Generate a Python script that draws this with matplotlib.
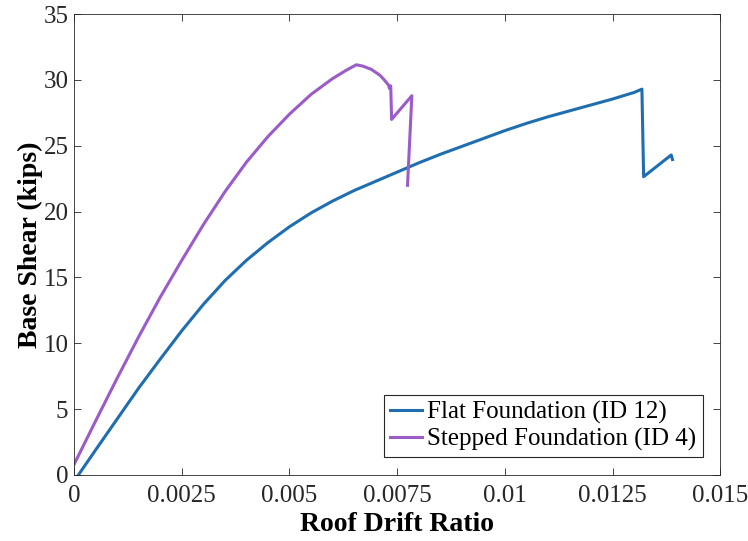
import numpy as np
import matplotlib
matplotlib.use("Agg")
import matplotlib.pyplot as plt

plt.rcParams['font.family'] = ['Liberation Serif', 'DejaVu Serif']

# Flat foundation (ID 12) pushover curve
flat_drift = [0.0001, 0.0005, 0.001, 0.0015, 0.002, 0.0025, 0.003, 0.0035, 0.004,
              0.0045, 0.005, 0.0055, 0.006, 0.0065, 0.007, 0.0075, 0.008, 0.0085,
              0.009, 0.0095, 0.01, 0.0105, 0.011, 0.0115, 0.012, 0.0125, 0.013,
              0.01318, 0.01322, 0.01386, 0.01389]
flat_shear = [0.0, 1.9, 4.25, 6.6, 8.8, 10.95, 12.95, 14.75, 16.3,
              17.65, 18.85, 19.9, 20.8, 21.6, 22.3, 23.0, 23.7, 24.35,
              24.95, 25.55, 26.15, 26.7, 27.2, 27.65, 28.1, 28.55, 29.05,
              29.3, 22.65, 24.3, 23.95]

# Stepped foundation (ID 4) pushover curve
step_drift = [0.0, 0.0005, 0.001, 0.0015, 0.002, 0.0025, 0.003, 0.0035, 0.004,
              0.0045, 0.005, 0.0055, 0.006, 0.0063, 0.00655, 0.0067, 0.0069,
              0.0071, 0.0072, 0.0073, 0.00732, 0.00735, 0.00737, 0.00784, 0.00774]
step_shear = [0.8, 4.1, 7.35, 10.5, 13.5, 16.3, 19.0, 21.5, 23.75,
              25.7, 27.4, 28.9, 30.1, 30.7, 31.15, 31.05, 30.8,
              30.35, 30.0, 29.6, 29.35, 29.55, 27.0, 28.8, 22.0]

xticks = [0, 0.0025, 0.005, 0.0075, 0.01, 0.0125, 0.015]
xtick_labels = ['0', '0.0025', '0.005', '0.0075', '0.01', '0.0125', '0.015']
yticks = [0, 5, 10, 15, 20, 25, 30, 35]

fig = plt.figure(figsize=(7.48, 5.41), dpi=100)
ax = fig.add_axes([0.099, 0.122, 0.864, 0.852])

ax.plot(flat_drift, flat_shear, color='#1f6eb0', lw=2.2, label='Flat Foundation (ID 12)')
ax.plot(step_drift, step_shear, color='#9b5bc9', lw=2.2, label='Stepped Foundation (ID 4)')

ax.set_xlim(0, 0.015)
ax.set_ylim(0, 35)
ax.set_xticks(xticks)
ax.set_xticklabels(xtick_labels)
ax.set_yticks(yticks)
ax.tick_params(direction='in', top=True, right=True, labelsize=18, colors='#262626',
               length=5, width=0.6)
ax.tick_params(axis='x', pad=7)
ax.tick_params(axis='y', pad=4)
for s in ax.spines.values():
    s.set_color('#262626')
    s.set_linewidth(0.6)

ax.set_xlabel('Roof Drift Ratio', fontsize=20, fontweight='bold', labelpad=4)
ax.set_ylabel('Base Shear (kips)', fontsize=20, fontweight='bold', labelpad=0)

leg = ax.legend(loc='lower right', fontsize=18, handlelength=1.3, handletextpad=0.2,
                borderpad=0.25, labelspacing=0.15, fancybox=False, framealpha=1,
                borderaxespad=0.7)
leg.get_frame().set_edgecolor('#262626')
leg.get_frame().set_linewidth(0.8)

fig.savefig('out.png', dpi=100)
